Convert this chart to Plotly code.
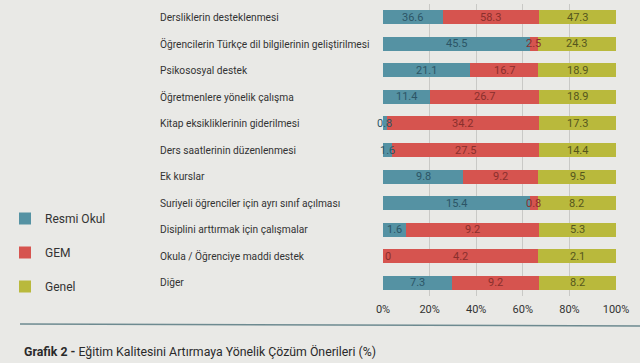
import plotly.graph_objects as go

categories = [
    "Dersliklerin desteklenmesi",
    "Öğrencilerin Türkçe dil bilgilerinin geliştirilmesi",
    "Psikososyal destek",
    "Öğretmenlere yönelik çalışma",
    "Kitap eksikliklerinin giderilmesi",
    "Ders saatlerinin düzenlenmesi",
    "Ek kurslar",
    "Suriyeli öğrenciler için ayrı sınıf açılması",
    "Disiplini arttırmak için çalışmalar",
    "Okula / Öğrenciye maddi destek",
    "Diğer",
]
resmi_okul = [36.6, 45.5, 21.1, 11.4, 0.8, 1.6, 9.8, 15.4, 1.6, 0, 7.3]
gem = [58.3, 2.5, 16.7, 26.7, 34.2, 27.5, 9.2, 0.8, 9.2, 4.2, 9.2]
genel = [47.3, 24.3, 18.9, 18.9, 17.3, 14.4, 9.5, 8.2, 5.3, 2.1, 8.2]
x_ticks = [0, 20, 40, 60, 80, 100]
x_tick_labels = ["0%", "20%", "40%", "60%", "80%", "100%"]

series = [
    ("Resmi Okul", resmi_okul, "#5592a3", "#2c5566"),
    ("GEM", gem, "#d6544f", "#8a2f2c"),
    ("Genel", genel, "#b9b93c", "#55561c"),
]

fig = go.Figure()
for name, vals, col, tcol in series:
    fig.add_trace(go.Bar(
        y=categories, x=vals, name=name, orientation="h",
        marker=dict(color=col, line=dict(width=0)),
        legendgroup=name, hoverinfo="skip",
    ))

# value labels drawn on top of all bars, centred on each normalised segment
totals = [a + b + c for a, b, c in zip(resmi_okul, gem, genel)]
starts = [0.0] * len(categories)
for name, vals, col, tcol in series:
    for k, (c, v) in enumerate(zip(categories, vals)):
        s = starts[k] / totals[k] * 100
        w = v / totals[k] * 100
        if v == 0:
            fig.add_annotation(x=s, y=c, xref="x", yref="y", text="%g" % v,
                               xanchor="left", yanchor="middle", showarrow=False,
                               font=dict(size=11, color="#8a2f2c", family="Roboto"))
        else:
            fig.add_annotation(x=s + w / 2, y=c, xref="x", yref="y", text="%g" % v,
                               xanchor="center", yanchor="middle", showarrow=False,
                               font=dict(size=11, color=tcol, family="Roboto"))
        starts[k] += v

# plot area geometry (pixels)
L, R, T, B = 383, 24, 4, 67
W = 640 - L - R
H = 363 - T - B

def px_x(p):
    return (p - L) / W

def px_y(p):
    return (363 - B - p) / H

for c in categories:
    fig.add_annotation(
        x=px_x(158), xref="paper", y=c, yref="y", text=c,
        xanchor="left", yanchor="middle", showarrow=False,
        font=dict(size=10.2, color="#333333", family="Roboto"),
    )

fig.add_shape(type="line", xref="paper", yref="paper",
              x0=px_x(20), x1=px_x(640), y0=px_y(324), y1=px_y(326),
              line=dict(color="#6d8a90", width=1.5))

fig.add_annotation(
    x=px_x(22), xref="paper", y=px_y(352), yref="paper",
    text="<b>Grafik 2 -</b> Eğitim Kalitesini Artırmaya Yönelik Çözüm Önerileri (%)",
    xanchor="left", yanchor="middle", showarrow=False,
    font=dict(size=12.3, color="#2a2a2a", family="Roboto"),
)

fig.update_layout(
    barmode="stack", barnorm="percent",
    width=640, height=363,
    margin=dict(l=L, r=R, t=T, b=B, autoexpand=False),
    paper_bgcolor="#e9e9e6", plot_bgcolor="#e9e9e6",
    bargap=0.47,
    font=dict(family="Roboto", color="#333333"),
    xaxis=dict(range=[0, 100], tickvals=x_ticks, ticktext=x_tick_labels,
               showgrid=True, gridcolor="#c9c9c6", gridwidth=1,
               zeroline=False, showline=False, ticks="", ticklabelstandoff=5,
               tickfont=dict(size=11, color="#333333")),
    yaxis=dict(autorange="reversed", showticklabels=False, showgrid=False,
               zeroline=False, showline=False, ticks=""),
    legend=dict(x=px_x(5), xanchor="left", y=px_y(204), yanchor="top",
                font=dict(size=12, color="#333333"),
                tracegroupgap=15, bgcolor="rgba(0,0,0,0)"),
    showlegend=True,
)

fig.write_html("out.html", config={"displayModeBar": False},
               post_script="document.body.style.margin='0';")
